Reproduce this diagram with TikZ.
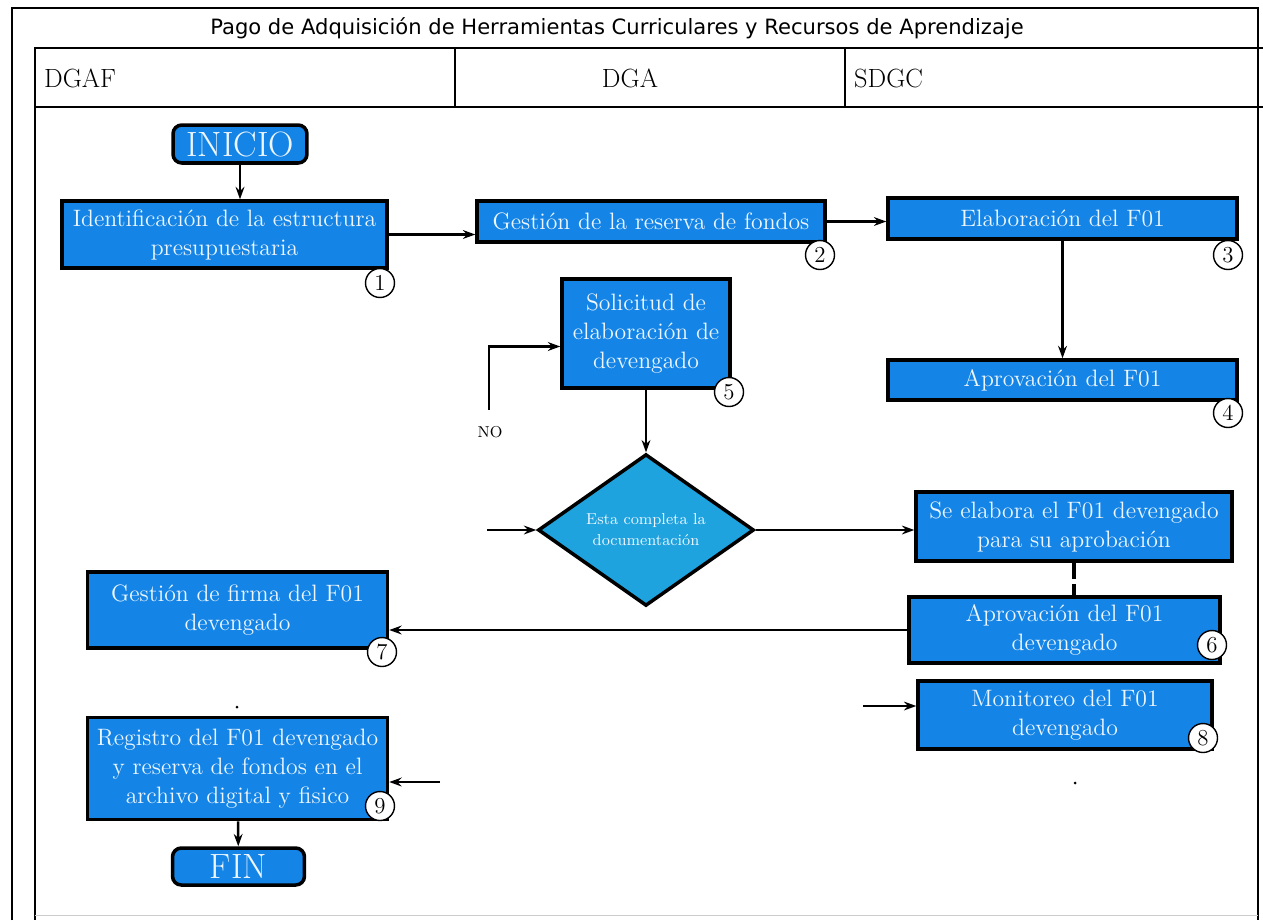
\documentclass[tikz,border=0pt]{standalone}
\usepackage{fontspec}
\newfontfamily\titlefont{DejaVu Sans}
\usetikzlibrary{shapes.geometric,arrows.meta}
\definecolor{boxblue}{HTML}{1485E6}
\definecolor{diamblue}{HTML}{1FA3DE}
\definecolor{boxtext}{HTML}{EEF6FF}
\tikzset{block/.style = {draw, fill=boxblue, line width=2pt, rectangle, text=boxtext, align=center, inner sep=2pt, font=\fontsize{13.5}{16.5}\selectfont},
         term/.style = {block, rounded corners=5pt, font=\fontsize{20}{22}\selectfont},
         decision/.style = {draw, fill=diamblue, line width=2pt, diamond, text=boxtext, align=center, inner sep=0pt, font=\fontsize{9}{12}\selectfont},
         num/.style = {draw, fill=white, thick, circle, inner sep=0pt, minimum size=0.58cm, font=\fontsize{13}{13}\selectfont},
         line/.style = {draw, line width=1.4pt, -{Stealth[length=7pt,width=5pt]}},
         frame/.style = {line width=1.5pt}}
\begin{document}
\begin{tikzpicture}[x=0.02cm, y=-0.02cm]
        \useasboundingbox (0,0) rectangle (1263,920);
        % marco y encabezado
        \draw[frame] (12,920) -- (12,8) -- (1258,8) -- (1258,920);
        \draw[frame] (1263,48) -- (35,48) -- (35,920);
        \draw[frame] (35,107) -- (1263,107);
        \draw[frame] (455,48) -- (455,107);
        \draw[frame] (845,48) -- (845,107);
        \draw[gray!40] (35,915) -- (1258,915);
        \node[font=\titlefont\fontsize{12}{14}\selectfont](titulo) at (617,28){Pago de Adquisición de Herramientas Curriculares y Recursos de Aprendizaje};
        \node[anchor=west, font=\fontsize{15}{15}\selectfont](dgaf) at (38,78){DGAF};
        \node[font=\fontsize{15}{15}\selectfont](dga) at (630,78){DGA};
        \node[anchor=west, font=\fontsize{15}{15}\selectfont](sdgc) at (848,78){SDGC};
        % bloques
        \node[term, minimum width=2.68cm, minimum height=0.76cm](inicio) at (240,144){INICIO};
        \node[block, minimum width=6.5cm, minimum height=1.34cm](ident) at (224.5,234.5){Identificación de la estructura\\presupuestaria};
        \node[block, minimum width=6.96cm, minimum height=0.82cm](reserva) at (651,221.5){Gestión de la reserva de fondos};
        \node[block, minimum width=6.98cm, minimum height=0.82cm](elab) at (1062.5,218.5){Elaboración del F01};
        \node[block, minimum width=6.98cm, minimum height=0.8cm](aprov) at (1062.5,380){Aprovación del F01};
        \node[block, minimum width=3.36cm, minimum height=2.18cm](solic) at (646,333.5){Solicitud de\\elaboración de\\devengado};
        \node[decision, minimum width=4.32cm, minimum height=2.48cm](decis) at (646,530){Esta completa la\\documentación};
        \node[block, minimum width=6.32cm, minimum height=1.38cm](elabdev) at (1074,526.5){Se elabora el F01 devengado\\para su aprobación};
        \node[block, minimum width=6.22cm, minimum height=1.32cm](aprovdev) at (1064.5,630){Aprovación del F01\\devengado};
        \node[block, minimum width=6cm, minimum height=1.52cm](firma) at (237.5,610){Gestión de firma del F01\\devengado};
        \node[block, minimum width=5.88cm, minimum height=1.36cm](monit) at (1065,715){Monitoreo del F01\\devengado};
        \node[block, minimum width=6cm, minimum height=2.04cm](regis) at (237.5,768.5){Registro del F01 devengado\\y reserva de fondos en el\\archivo digital y fisico};
        \node[term, minimum width=2.64cm, minimum height=0.74cm](fin) at (238.5,866.5){FIN};
        % numeros
        \node[num](c1) at (380,283){1};
        \node[num](c2) at (820,255){2};
        \node[num](c3) at (1228,255){3};
        \node[num](c4) at (1228,413){4};
        \node[num](c5) at (729,392){5};
        \node[num](c6) at (1212,645){6};
        \node[num](c7) at (382,652){7};
        \node[num](c8) at (1203,738){8};
        \node[num](c9) at (380,806){9};
        % conectores
        \coordinate (nostart) at (489,410);
        \coordinate (stubd) at (487,530);
        \coordinate (stubm) at (863,706);
        \coordinate (stubr) at (440,782);
        \draw[line] (inicio.south) -- (inicio.south |- ident.north);
        \draw[line] (ident.east) -- (ident.east -| reserva.west);
        \draw[line] (reserva.east) -- (reserva.east -| elab.west);
        \draw[line] (elab) -- (aprov);
        \draw[line] (nostart) |- ([yshift=-0.26cm]solic.west);
        \node[font=\fontsize{9}{9}\selectfont](no) at (490,432){NO};
        \draw[line] (solic) -- (decis);
        \draw[line] (stubd) -- (decis.west);
        \draw[line] (decis.east) -- (decis.east -| elabdev.west);
        \draw[line width=2.4pt, dash pattern=on 9pt off 3pt] (elabdev.south) -- (elabdev.south |- aprovdev.north);
        \draw[line] (aprovdev.west) -- (aprovdev.west -| firma.east);
        \draw[line] (stubm) -- (stubm -| monit.west);
        \draw[line] (stubr) -- (stubr -| regis.east);
        \draw[line] (regis) -- (fin);
        \fill (237,707) circle (1.5);
        \fill (1075,783) circle (1.5);
    \end{tikzpicture}
\end{document}
